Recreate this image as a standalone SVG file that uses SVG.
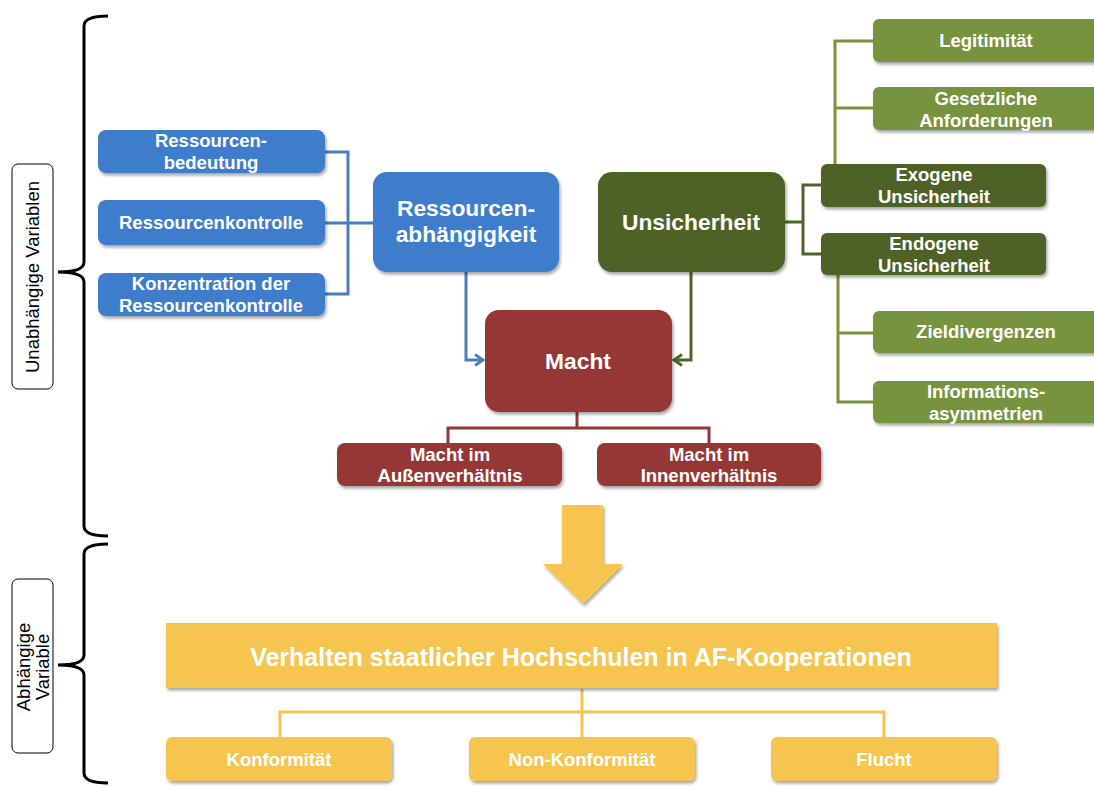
<svg xmlns="http://www.w3.org/2000/svg" width="1094" height="787" viewBox="0 0 1094 787">
  <defs>
    <filter id="shadow" x="-10%" y="-20%" width="130%" height="150%">
      <feDropShadow dx="1.5" dy="2.5" stdDeviation="1.8" flood-color="#000" flood-opacity="0.35"/>
    </filter>
    <marker id="headBlue" viewBox="0 0 14 14" refX="11" refY="7" markerWidth="14" markerHeight="14" markerUnits="userSpaceOnUse" orient="auto">
      <path d="M3,1.5 L11,7 L3,12.5" fill="none" stroke="#4A7EBB" stroke-width="2.8"/>
    </marker>
    <marker id="headGreen" viewBox="0 0 14 14" refX="11" refY="7" markerWidth="14" markerHeight="14" markerUnits="userSpaceOnUse" orient="auto">
      <path d="M3,1.5 L11,7 L3,12.5" fill="none" stroke="#4F6228" stroke-width="2.8"/>
    </marker>
  </defs>
  <style>
    .t { font-family: "Liberation Sans", Arial, sans-serif; font-weight: bold; fill: #fff; text-anchor: middle; }
    .s { font-size: 18.5px; }
    .l { font-size: 22.8px; }
    .blue { fill: #3C7DCB; filter: url(#shadow); }
    .dgreen { fill: #4F6228; filter: url(#shadow); }
    .lgreen { fill: #77933C; filter: url(#shadow); }
    .red { fill: #953735; filter: url(#shadow); }
    .yellow { fill: #F6C54F; filter: url(#shadow); }
    .lbl { fill: #fff; stroke: #000; stroke-width: 1; }
    .lt { font-family: "Liberation Sans", Arial, sans-serif; font-size: 18.5px; fill: #000; text-anchor: middle; }
    .brace { fill: none; stroke: #000; stroke-width: 3; }
    .c { fill: none; stroke-width: 3; }
  </style>

  <!-- side braces and category labels -->
  <g id="brace-independent">
    <path class="brace" d="M108,16 Q84,16 84,26 L84,262 Q84,272 58,272 Q84,272 84,282 L84,526 Q84,536 108,536"/>
    <rect class="lbl" x="12" y="164" width="41" height="225" rx="6"/>
    <text class="lt" transform="translate(33,277) rotate(-90)" y="6">Unabhängige Variablen</text>
  </g>
  <g id="brace-dependent">
    <path class="brace" d="M108,544 Q84,544 84,554 L84,655 Q84,665 58,665 Q84,665 84,675 L84,773 Q84,783 108,783"/>
    <rect class="lbl" x="12" y="579" width="41" height="174" rx="6"/>
    <text class="lt" transform="translate(33,667) rotate(-90)"><tspan x="0" y="-3">Abhängige</tspan><tspan x="0" y="16">Variable</tspan></text>
  </g>

  <!-- connectors -->
  <g id="connectors">
    <path class="c" stroke="#4A7EBB" d="M325,152 H348 V294 H325 M325,223 H373"/>
    <path class="c" stroke="#4A7EBB" d="M466,272 V360 H483" marker-end="url(#headBlue)"/>
    <path class="c" stroke="#4F6228" d="M691,272 V360 H674" marker-end="url(#headGreen)"/>
    <path class="c" stroke="#4F6228" d="M785,222 H803 M821,185 H803 V254 H821"/>
    <path class="c" stroke="#77933C" d="M873,41 H835 V164 M835,108 H873"/>
    <path class="c" stroke="#77933C" d="M838,275 V402 H873 M838,333 H873"/>
    <path class="c" stroke="#953735" d="M577,412 V428 M448,443 V428 H709 V443"/>
    <path class="c" stroke="#F6C54F" d="M582,689 V737 M280,737 V712 H884 V737"/>
  </g>

  <!-- resource side -->
  <g id="ressourcenbedeutung">
    <rect class="blue" x="98" y="130" width="227" height="43" rx="8"/>
    <text class="t s"><tspan x="211" y="147">Ressourcen-</tspan><tspan x="211" y="169">bedeutung</tspan></text>
  </g>
  <g id="ressourcenkontrolle">
    <rect class="blue" x="98" y="200" width="227" height="45" rx="8"/>
    <text class="t s" x="211" y="229">Ressourcenkontrolle</text>
  </g>
  <g id="konzentration">
    <rect class="blue" x="98" y="273" width="227" height="43" rx="8"/>
    <text class="t s"><tspan x="211" y="290">Konzentration der</tspan><tspan x="211" y="312">Ressourcenkontrolle</tspan></text>
  </g>
  <g id="ressourcenabhaengigkeit">
    <rect class="blue" x="373" y="172" width="186" height="100" rx="14"/>
    <text class="t l"><tspan x="466" y="216">Ressourcen-</tspan><tspan x="466" y="242">abhängigkeit</tspan></text>
  </g>

  <!-- uncertainty side -->
  <g id="unsicherheit">
    <rect class="dgreen" x="598" y="172" width="187" height="100" rx="14"/>
    <text class="t l" x="691" y="230">Unsicherheit</text>
  </g>
  <g id="exogene">
    <rect class="dgreen" x="821" y="164" width="225" height="43" rx="6"/>
    <text class="t s"><tspan x="934" y="181">Exogene</tspan><tspan x="934" y="203">Unsicherheit</tspan></text>
  </g>
  <g id="endogene">
    <rect class="dgreen" x="821" y="233" width="225" height="42" rx="6"/>
    <text class="t s"><tspan x="934" y="250">Endogene</tspan><tspan x="934" y="272">Unsicherheit</tspan></text>
  </g>
  <g id="legitimitaet">
    <rect class="lgreen" x="873" y="19" width="230" height="43" rx="6"/>
    <text class="t s" x="986" y="47">Legitimität</text>
  </g>
  <g id="gesetzliche">
    <rect class="lgreen" x="873" y="87" width="230" height="43" rx="6"/>
    <text class="t s"><tspan x="986" y="105">Gesetzliche</tspan><tspan x="986" y="127">Anforderungen</tspan></text>
  </g>
  <g id="zieldivergenzen">
    <rect class="lgreen" x="873" y="311" width="230" height="42" rx="6"/>
    <text class="t s" x="986" y="338">Zieldivergenzen</text>
  </g>
  <g id="informationsasymmetrien">
    <rect class="lgreen" x="873" y="381" width="230" height="42" rx="6"/>
    <text class="t s"><tspan x="986" y="398">Informations-</tspan><tspan x="986" y="420">asymmetrien</tspan></text>
  </g>

  <!-- power -->
  <g id="macht">
    <rect class="red" x="485" y="310" width="187" height="102" rx="14"/>
    <text class="t l" x="578" y="369">Macht</text>
  </g>
  <g id="aussenverhaeltnis">
    <rect class="red" x="337" y="443" width="225" height="43" rx="8"/>
    <text class="t s"><tspan x="450" y="461">Macht im</tspan><tspan x="450" y="482">Außenverhältnis</tspan></text>
  </g>
  <g id="innenverhaeltnis">
    <rect class="red" x="597" y="443" width="224" height="43" rx="8"/>
    <text class="t s"><tspan x="709" y="461">Macht im</tspan><tspan x="709" y="482">Innenverhältnis</tspan></text>
  </g>

  <!-- dependent variable -->
  <g id="arrow-down">
    <path class="yellow" d="M562,505 H603 V564 H623 L583,604 L543,564 H562 Z"/>
  </g>
  <g id="verhalten">
    <rect class="yellow" x="166" y="623" width="831" height="65"/>
    <text class="t" style="font-size:25px" x="581" y="666">Verhalten staatlicher Hochschulen in AF-Kooperationen</text>
  </g>
  <g id="konformitaet">
    <rect class="yellow" x="166" y="737" width="226" height="44" rx="6"/>
    <text class="t s" x="279" y="766">Konformität</text>
  </g>
  <g id="non-konformitaet">
    <rect class="yellow" x="469" y="737" width="226" height="44" rx="6"/>
    <text class="t s" x="582" y="766">Non-Konformität</text>
  </g>
  <g id="flucht">
    <rect class="yellow" x="771" y="737" width="226" height="44" rx="6"/>
    <text class="t s" x="884" y="766">Flucht</text>
  </g>
</svg>
